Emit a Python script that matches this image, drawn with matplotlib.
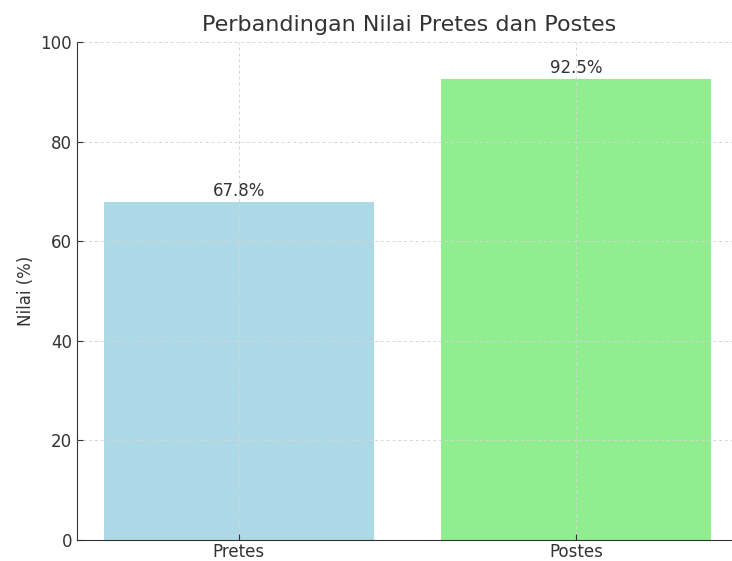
import matplotlib.pyplot as plt

categories = ['Pretes', 'Postes']
values = [67.8, 92.5]
colors = ['lightblue', 'lightgreen']

plt.rcParams['font.family'] = 'DejaVu Sans'
plt.rcParams['text.color'] = '#333333'
plt.rcParams['axes.labelcolor'] = '#333333'
plt.rcParams['xtick.color'] = '#333333'
plt.rcParams['ytick.color'] = '#333333'

fig = plt.figure(figsize=(7.32, 5.61), dpi=100)
ax = fig.add_axes([77 / 732, 21 / 561, 664 / 732, 498 / 561])

bars = ax.bar(categories, values, color=colors, width=0.8)
for bar, v in zip(bars, values):
    ax.text(bar.get_x() + bar.get_width() / 2, v + 0.4, f'{v}%',
            ha='center', va='bottom', fontsize=12)

ax.set_ylim(0, 100)
ax.set_xlim(-0.48, 1.49)
ax.set_title('Perbandingan Nilai Pretes dan Postes', fontsize=16, pad=8)
ax.set_ylabel('Nilai (%)', fontsize=12)
ax.tick_params(direction='in', labelsize=12, length=4)
ax.tick_params(axis='x', pad=2)
ax.grid(True, linestyle=(0, (3, 3)), color='#d5d5d5', linewidth=0.7)
ax.set_axisbelow(False)
for s in ['top', 'right']:
    ax.spines[s].set_visible(False)
for s in ['left', 'bottom']:
    ax.spines[s].set_color('#333333')

fig.savefig('out.png', dpi=100)
